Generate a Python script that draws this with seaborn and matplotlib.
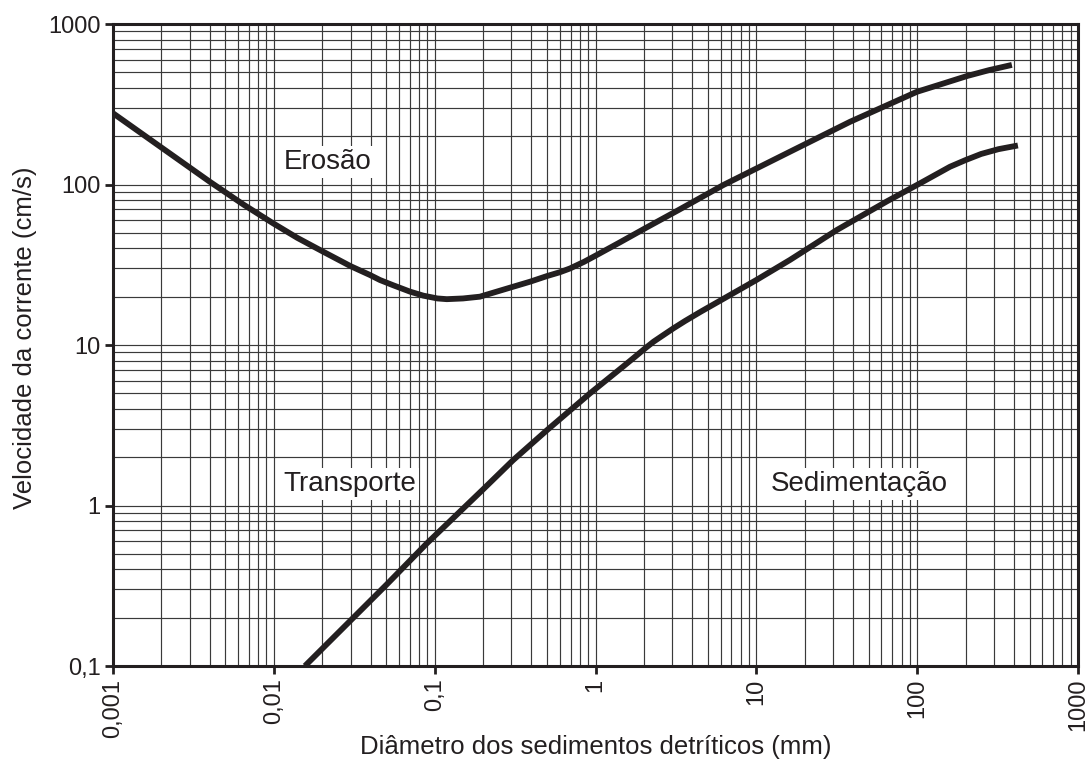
import numpy as np
import pandas as pd
import matplotlib
matplotlib.use("Agg")
import matplotlib.pyplot as plt
import matplotlib.ticker as mticker
import seaborn as sns

# Hjulström diagram
erosion_d = [0.001, 0.002, 0.004, 0.0065, 0.0099, 0.014, 0.0203, 0.03, 0.0396, 0.0457,
             0.055, 0.0703, 0.085, 0.104, 0.119, 0.15, 0.191, 0.3, 0.392, 0.5,
             0.6, 0.695, 0.85, 1.02, 1.4, 2.08, 3.28, 6.24, 17, 38.3,
             60, 99.6, 150, 204, 280, 388]
erosion_v = [278, 170, 104, 74.8, 57.3, 46.5, 38.1, 31.0, 27.3, 25.4,
             23.6, 21.5, 20.3, 19.5, 19.3, 19.5, 20.0, 22.9, 24.8, 26.9,
             28.4, 30.0, 33.0, 36.4, 43.3, 54, 69.3, 99.3, 164, 246,
             301, 378, 430, 474, 516, 556]

sediment_d = [0.0156, 0.05, 0.0893, 0.2, 0.308, 0.5, 0.925, 1.5, 1.8, 2.08,
              2.3, 2.7, 3.05, 3.6, 4.5, 6.24, 10, 16.2, 31.7, 64.8,
              104, 160, 200, 250, 320, 423]
sediment_v = [0.1, 0.32, 0.58, 1.26, 1.92, 2.95, 5.0, 7.4, 8.6, 9.7,
              10.5, 11.7, 12.7, 14.1, 16.1, 19.4, 25.4, 33.9, 52.1, 78.5,
              101.6, 129, 142, 155, 166, 175]

region_labels = ["Erosão", "Transporte", "Sedimentação"]
region_x = [0.0115, 0.0115, 12.3]
region_y = [138, 1.36, 1.36]

x_ticks = [0.001, 0.01, 0.1, 1, 10, 100, 1000]
x_ticklabels = ["0,001", "0,01", "0,1", "1", "10", "100", "1000"]
y_ticks = [0.1, 1, 10, 100, 1000]
y_ticklabels = ["0,1", "1", "10", "100", "1000"]

sns.set_style("white")
plt.rcParams['font.family'] = ['Liberation Sans', 'DejaVu Sans']

df = pd.concat([
    pd.DataFrame({"d": erosion_d, "v": erosion_v, "curve": "erosao"}),
    pd.DataFrame({"d": sediment_d, "v": sediment_v, "curve": "sedimentacao"}),
])

fig = plt.figure(figsize=(10.88, 7.67), dpi=100)
ax = fig.add_axes([113 / 1088, 1 - 666 / 767, 965 / 1088, 642 / 767])
ax.set_xscale("log")
ax.set_yscale("log")

sns.lineplot(data=df, x="d", y="v", units="curve", estimator=None, sort=False,
             color="#231f20", linewidth=4.2, ax=ax, solid_capstyle="butt",
             solid_joinstyle="round", zorder=5)

ax.set_xlim(0.001, 1000)
ax.set_ylim(0.1, 1000)

# grid on every decade subdivision
ax.xaxis.set_major_locator(mticker.FixedLocator(x_ticks))
ax.yaxis.set_major_locator(mticker.FixedLocator(y_ticks))
for axis in (ax.xaxis, ax.yaxis):
    axis.set_minor_locator(mticker.LogLocator(base=10, subs=np.arange(2, 10), numticks=20))
    axis.set_minor_formatter(mticker.NullFormatter())
ax.set_xticklabels(x_ticklabels, rotation=90)
ax.set_yticklabels(y_ticklabels)
ax.grid(True, which="both", color="#3a3a3a", linewidth=0.85)
ax.tick_params(which="major", direction="out", length=6, width=2, color="#231f20",
               labelsize=17, labelcolor="#231f20", pad=3, bottom=True, left=True)
ax.tick_params(which="minor", length=0)

for side in ["left", "bottom", "right", "top"]:
    ax.spines[side].set_visible(True)
    ax.spines[side].set_color("#231f20")
    ax.spines[side].set_linewidth(2.2)
    ax.spines[side].set_zorder(6)

ax.set_xlabel("Diâmetro dos sedimentos detríticos (mm)", fontsize=18.5, color="#231f20")
ax.set_ylabel("Velocidade da corrente (cm/s)", fontsize=18.5, color="#231f20")
ax.xaxis.set_label_coords(0.5, -0.108)
ax.yaxis.set_label_coords(-0.079, 0.511)

for lbl, lx, ly in zip(region_labels, region_x, region_y):
    ax.text(lx, ly, lbl, fontsize=20, color="#231f20", va="center", ha="left", zorder=4,
            bbox=dict(facecolor="white", edgecolor="none", pad=2))

if ax.get_legend() is not None:
    ax.get_legend().remove()
fig.savefig("out.png", dpi=100, facecolor="white")
